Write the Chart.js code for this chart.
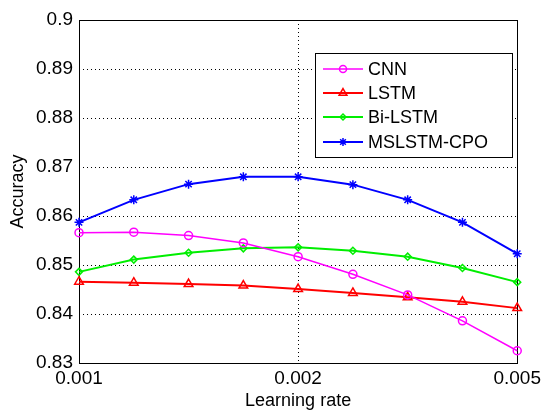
<!DOCTYPE html>
<html>
<head>
<meta charset="utf-8">
<script src="https://cdn.jsdelivr.net/npm/chart.js@4.4.1/dist/chart.umd.min.js"></script>
<style>
  html, body { margin: 0; padding: 0; background: #fff; }
  #wrap { width: 545px; height: 412px; }
</style>
</head>
<body>
<div id="wrap"><canvas id="accChart"></canvas></div>
<script>
// --- data ---
const xTickLabels = ['0.001', '', '', '', '0.002', '', '', '', '0.005'];
const seriesNames = ['CNN', 'LSTM', 'Bi-LSTM', 'MSLSTM-CPO'];
const cnnAcc    = [0.8566, 0.8567, 0.8560, 0.8545, 0.8517, 0.8481, 0.8439, 0.8386, 0.8325];
const lstmAcc   = [0.8466, 0.8464, 0.8461, 0.8458, 0.8451, 0.8443, 0.8434, 0.8425, 0.8412];
const biLstmAcc = [0.8486, 0.8511, 0.8525, 0.8534, 0.8536, 0.8529, 0.8517, 0.8494, 0.8465];
const mslstmAcc = [0.8587, 0.8633, 0.8665, 0.8680, 0.8680, 0.8664, 0.8633, 0.8587, 0.8523];

const FONT = "'Liberation Sans', Arial, sans-serif";

function makeSet(label, data, color, style, radius, width) {
    return {
        label: label,
        data: data,
        borderColor: color,
        backgroundColor: color,
        borderWidth: width,
        pointStyle: style,
        pointRadius: radius,
        pointBorderWidth: 1.5,
        pointBackgroundColor: 'rgba(0,0,0,0)',
        pointBorderColor: color,
        tension: 0,
        fill: false,
        clip: false
    };
}

// frame round the plot area + MATLAB-like legend box
const frameAndLegend = {
    id: 'frameAndLegend',
    beforeDatasetsDraw(chart) {
        const { ctx, chartArea: a } = chart;
        ctx.save();
        ctx.strokeStyle = '#000';
        ctx.lineWidth = 1;
        ctx.strokeRect(Math.round(a.left) + 0.5, Math.round(a.top) + 0.5,
            Math.round(a.right - a.left), Math.round(a.bottom - a.top));
        ctx.restore();
    },
    afterDatasetsDraw(chart) {
        const ctx = chart.ctx;
        const box = { x: 315, y: 53, w: 197, h: 104 };
        ctx.save();
        ctx.fillStyle = '#fff';
        ctx.fillRect(box.x, box.y, box.w, box.h);
        ctx.strokeStyle = '#000';
        ctx.lineWidth = 1;
        ctx.strokeRect(box.x + 0.5, box.y + 0.5, box.w, box.h);
        const rowY = [69, 93, 117, 142];
        chart.data.datasets.forEach((ds, i) => {
            const y = rowY[i];
            ctx.strokeStyle = ds.borderColor;
            ctx.lineWidth = ds.borderWidth;
            ctx.beginPath();
            ctx.moveTo(323, y);
            ctx.lineTo(363, y);
            ctx.stroke();
            if (Chart.helpers && Chart.helpers.drawPoint) {
                ctx.lineWidth = 1.5;
                ctx.fillStyle = 'rgba(0,0,0,0)';
                Chart.helpers.drawPoint(ctx, {
                    pointStyle: ds.pointStyle,
                    radius: Math.max(ds.pointRadius - 0.5, 2.5),
                    rotation: 0,
                    borderWidth: 1.5
                }, 343, y);
            }
            ctx.fillStyle = '#000';
            ctx.font = '18px ' + FONT;
            ctx.textBaseline = 'middle';
            ctx.textAlign = 'left';
            ctx.fillText(ds.label, 368, y + 1);
        });
        ctx.restore();
    }
};

new Chart(document.getElementById('accChart').getContext('2d'), {
    type: 'line',
    data: {
        labels: xTickLabels,
        datasets: [
            makeSet(seriesNames[0], cnnAcc, '#ff00ff', 'circle', 4, 1.5),
            makeSet(seriesNames[1], lstmAcc, '#ff0000', 'triangle', 5, 2),
            makeSet(seriesNames[2], biLstmAcc, '#00ee00', 'rectRot', 3.5, 2),
            makeSet(seriesNames[3], mslstmAcc, '#0000ff', 'star', 4.5, 2)
        ]
    },
    options: {
        responsive: true,
        maintainAspectRatio: false,
        animation: false,
        layout: { padding: { top: 20, right: 27, left: 0, bottom: 0 } },
        plugins: {
            legend: { display: false },
            tooltip: { enabled: false }
        },
        scales: {
            x: {
                offset: false,
                afterFit(scale) { scale.height = 49; },
                grid: {
                    drawTicks: false,
                    lineWidth: 1,
                    color: (c) => c.index === 4 ? '#000' : 'rgba(0,0,0,0)'
                },
                border: { display: false, dash: [1, 3] },
                ticks: {
                    autoSkip: false,
                    maxRotation: 0,
                    padding: 4,
                    color: '#000',
                    font: { family: FONT, size: 19 }
                },
                title: {
                    display: true,
                    text: 'Learning rate',
                    color: '#000',
                    padding: { top: 0, bottom: 0 },
                    font: { family: FONT, size: 18 }
                }
            },
            y: {
                min: 0.83,
                max: 0.9,
                afterFit(scale) { scale.width = 79; },
                grid: {
                    drawTicks: false,
                    lineWidth: 1,
                    color: '#000'
                },
                border: { display: false, dash: [1, 3] },
                ticks: {
                    stepSize: 0.01,
                    padding: 6,
                    color: '#000',
                    font: { family: FONT, size: 19 },
                    callback: (v) => String(+v.toFixed(2))
                },
                title: {
                    display: true,
                    text: 'Accuracy',
                    color: '#000',
                    padding: { top: 7, bottom: 0 },
                    font: { family: FONT, size: 18 }
                }
            }
        }
    },
    plugins: [frameAndLegend]
});
</script>
</body>
</html>
